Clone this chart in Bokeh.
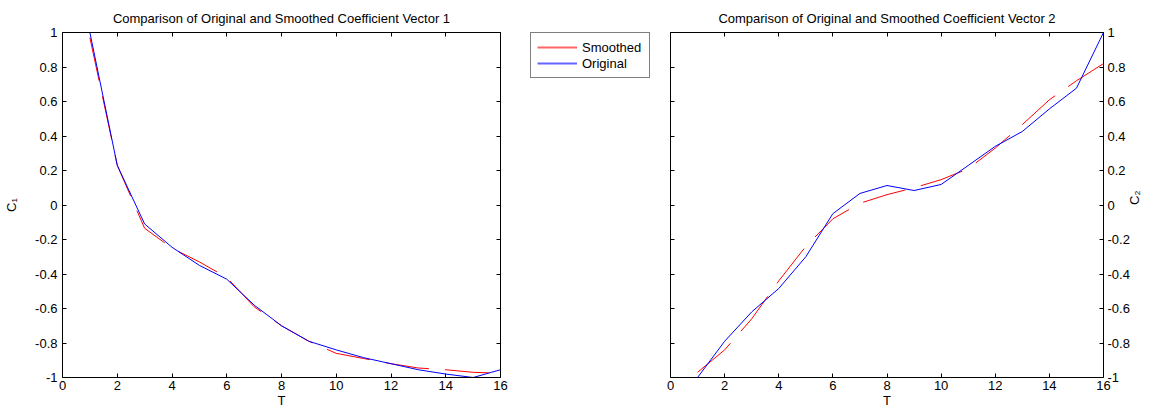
import math
from bokeh.plotting import figure
from bokeh.models import Range1d, LinearAxis, FixedTicker, Legend, LegendItem
from bokeh.layouts import row
from bokeh.embed import file_html
from bokeh.resources import INLINE

# ---------------- data ----------------
T = list(range(1, 17))
c1_original = [1.0, 0.23, -0.11, -0.245, -0.35, -0.43, -0.58, -0.70, -0.79, -0.84,
               -0.885, -0.92, -0.955, -0.98, -1.0, -0.955]
c1_smoothed = [0.97, 0.23, -0.135, -0.25, -0.33, -0.42, -0.59, -0.70, -0.79, -0.86,
               -0.89, -0.92, -0.945, -0.955, -0.97, -0.975]
c2_original = [-1.0, -0.79, -0.62, -0.484, -0.30, -0.05, 0.067, 0.113, 0.084, 0.119,
               0.229, 0.34, 0.426, 0.557, 0.677, 1.0]
c2_smoothed = [-0.97, -0.84, -0.66, -0.44, -0.24, -0.08, 0.01, 0.06, 0.10, 0.147,
               0.21, 0.33, 0.466, 0.61, 0.72, 0.82]

x_ticks = [0, 2, 4, 6, 8, 10, 12, 14, 16]
y_ticks = [-1, -0.8, -0.6, -0.4, -0.2, 0, 0.2, 0.4, 0.6, 0.8, 1]
y_tick_labels = ["-1", "-0.8", "-0.6", "-0.4", "-0.2", "0", "0.2", "0.4", "0.6", "0.8", "1"]
titles = ["Comparison of Original and Smoothed Coefficient Vector 1",
          "Comparison of Original and Smoothed Coefficient Vector 2"]
y_labels = ["C\u2081", "C\u2082"]
x_label = "T"
series_names = ["Smoothed", "Original"]

FONT = "Liberation Sans"
FS = "13px"
RED = "#ff0000"
BLUE = "#0000ff"
DASH = "44 16"


def base_axis(ax, ticks, show_labels, overrides=None):
    ax.ticker = FixedTicker(ticks=ticks)
    ax.axis_line_color = "black"
    ax.axis_line_width = 1
    ax.major_tick_line_color = "black"
    ax.major_tick_in = 4
    ax.major_tick_out = 0
    ax.minor_tick_line_color = None
    ax.major_label_text_font = FONT
    if show_labels:
        ax.major_label_text_font_size = FS
        ax.major_label_text_color = "black"
        ax.major_label_standoff = 5
        if overrides:
            ax.major_label_overrides = overrides
    else:
        ax.major_label_text_font_size = "1px"
        ax.major_label_text_color = None
        ax.major_label_standoff = 0
    ax.axis_label_text_font = FONT
    ax.axis_label_text_font_size = FS
    ax.axis_label_text_font_style = "normal"
    ax.axis_label_text_color = "black"
    return ax


def make_panel(idx, original, smoothed, frame_w, borders, ylabel_side):
    bl, br = borders
    p = figure(frame_width=frame_w, frame_height=345,
               x_range=Range1d(0, 16), y_range=Range1d(-1, 1),
               output_backend="svg", toolbar_location=None,
               x_axis_location=None, y_axis_location=None,
               min_border_left=bl, min_border_right=br,
               min_border_top=32, min_border_bottom=33,
               background_fill_color="white", border_fill_color="white")
    p.outline_line_color = None
    p.xgrid.visible = False
    p.ygrid.visible = False

    yover = {v: s for v, s in zip(y_ticks, y_tick_labels)}

    bottom = base_axis(LinearAxis(), x_ticks, True)
    bottom.major_label_standoff = 3
    bottom.axis_label = x_label
    bottom.axis_label_standoff = 0
    p.add_layout(bottom, "below")

    top = base_axis(LinearAxis(), x_ticks, False)
    top.axis_label = titles[idx]
    top.axis_label_standoff = 7
    p.add_layout(top, "above")

    left = base_axis(LinearAxis(), y_ticks, ylabel_side == "left", yover)
    right = base_axis(LinearAxis(), y_ticks, ylabel_side == "right", yover)
    if ylabel_side == "left":
        left.axis_label = y_labels[idx]
        left.axis_label_standoff = 13
    else:
        right.axis_label = y_labels[idx]
        right.axis_label_standoff = 2
        right.major_label_standoff = 4
        try:
            right.axis_label_orientation = math.pi / 2
        except Exception:
            pass
    p.add_layout(left, "left")
    p.add_layout(right, "right")

    r_s = p.line(T, smoothed, line_color=RED, line_width=1, line_dash=DASH)
    r_o = p.line(T, original, line_color=BLUE, line_width=1)
    return p, r_s, r_o


p1, s1, o1 = make_panel(0, c1_original, c1_smoothed, 438, (62, 10), "left")
p2, s2, o2 = make_panel(1, c2_original, c2_smoothed, 433, (10, 47), "right")

# middle strip holding the shared legend (its lines lie outside its view)
pm = figure(width=150, height=410, x_range=Range1d(100, 101), y_range=Range1d(-1, 1),
            output_backend="svg", toolbar_location=None,
            x_axis_location=None, y_axis_location=None,
            min_border=0, min_border_left=0, min_border_right=0,
            min_border_top=0, min_border_bottom=0,
            background_fill_color="white", border_fill_color="white")
pm.outline_line_color = None
pm.xgrid.visible = False
pm.ygrid.visible = False
ls = pm.line(T, c1_smoothed, line_color=RED, line_width=2, line_alpha=0.6)
lo = pm.line(T, c1_original, line_color=BLUE, line_width=2, line_alpha=0.6)

legend = Legend(items=[LegendItem(label=series_names[0], renderers=[ls]),
                       LegendItem(label=series_names[1], renderers=[lo])],
                location=(20, 299), orientation="vertical",
                label_text_font=FONT, label_text_font_size=FS,
                label_text_color="black",
                glyph_width=40, glyph_height=16, label_height=16,
                label_width=61, label_standoff=5,
                padding=6, spacing=0, margin=0,
                border_line_color="black", border_line_width=1,
                background_fill_color="white", background_fill_alpha=1)
pm.add_layout(legend, "center")

layout = row(p1, pm, p2)

open("out.html", "w").write(file_html(layout, INLINE))
